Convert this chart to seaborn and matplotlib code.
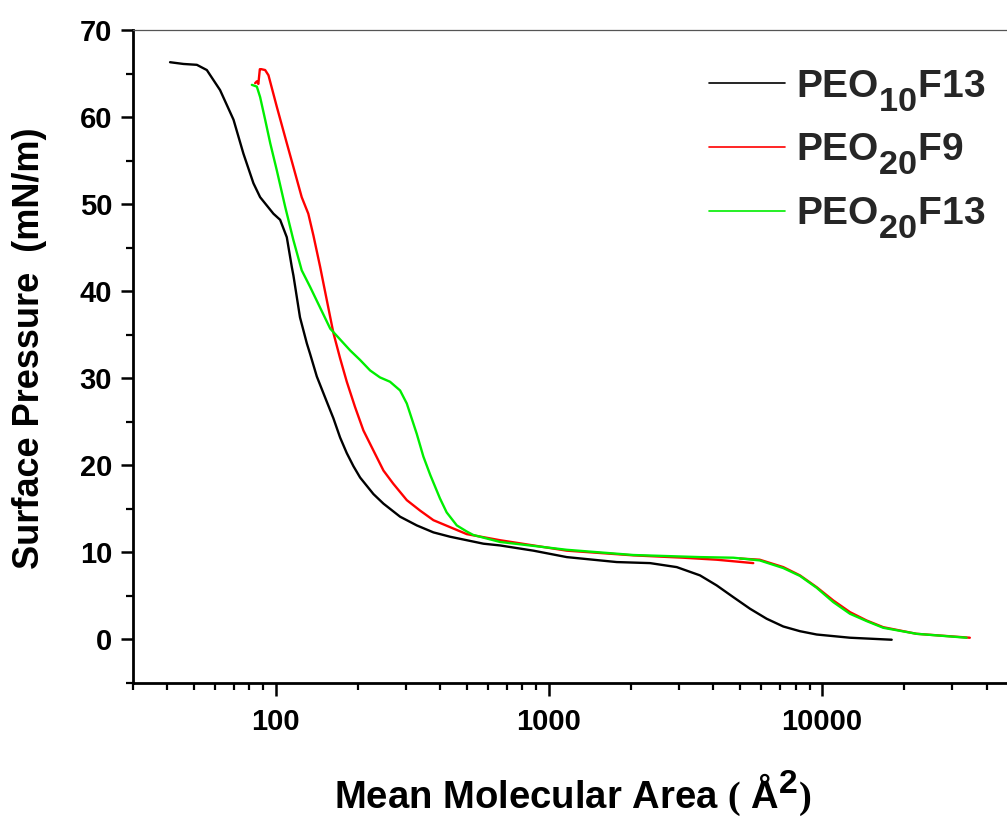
import numpy as np
import pandas as pd
import matplotlib
matplotlib.use('Agg')
import matplotlib.pyplot as plt
import seaborn as sns
from matplotlib.lines import Line2D
from matplotlib.ticker import FixedLocator, FixedFormatter, LogLocator, MultipleLocator, NullFormatter

# larger, lower subscripts (Origin style)
try:
    import matplotlib._mathtext as _mt
    _mt.SHRINK_FACTOR = 0.88
    for _name in dir(_mt):
        _obj = getattr(_mt, _name)
        if isinstance(_obj, type) and issubclass(_obj, _mt.FontConstantsBase):
            _obj.sub1 = 0.7
except Exception:
    pass

# ---------------- data ----------------
series_names = ['PEO$_{\\mathbf{10}}$F13', 'PEO$_{\\mathbf{20}}$F9', 'PEO$_{\\mathbf{20}}$F13']
series_colors = ['#000000', '#ff0000', '#00ee00']

peo10f13_area = [41.0, 45.9, 51.4, 55.9, 62.5, 70.0, 76.1, 82.8, 87.6, 98.0, 103.7, 109.7, 114.4,
                 116.0, 122.6, 129.9, 133.5, 141.3, 153.7, 162.5, 171.9, 181.9, 192.4, 203.5,
                 227.7, 247.8, 285.1, 328.2, 377.5, 434.5, 500, 575.6, 662, 877, 1162, 1771,
                 2345, 2937, 3573, 4112, 4732, 5446, 6267, 7211, 8298, 9551, 12650, 17980]
peo10f13_pi = [66.3, 66.1, 66.0, 65.4, 63.1, 59.7, 55.8, 52.4, 50.8, 48.9, 48.2, 46.2, 42.8,
               41.8, 37.0, 34.0, 32.8, 30.2, 27.3, 25.4, 23.2, 21.4, 19.9, 18.6,
               16.7, 15.6, 14.1, 13.1, 12.3, 11.8, 11.4, 11.0, 10.8, 10.2, 9.46, 8.89,
               8.77, 8.31, 7.36, 6.21, 4.86, 3.53, 2.38, 1.49, 0.95, 0.57, 0.20, -0.03]

peo20f9_area_a = [84.0, 85.2, 86.3, 87.4, 88.5, 91.4, 94.0, 100.8, 109.7, 115.9, 124.4, 131.5, 137.3,
                  145.3, 149.4, 162.5, 171.9, 181.9, 195.0, 209.3, 227.7, 247.8, 269.0, 301.7,
                  337.5, 377.6, 434.5, 500, 662, 1162, 2037, 3104, 4112, 5598]
peo20f9_pi_a = [63.9, 64.1, 63.8, 65.5, 65.5, 65.4, 64.8, 61.2, 57.0, 54.3, 50.8, 48.9, 46.4,
                42.8, 40.9, 35.2, 32.3, 29.6, 26.7, 24.0, 21.7, 19.4, 17.9, 16.0,
                14.8, 13.7, 12.9, 12.1, 11.4, 10.2, 9.66, 9.39, 9.16, 8.77]
peo20f9_area_b = [5000, 5911, 7211, 8298, 9551, 10990, 12650, 14560, 16750, 22180, 34740]
peo20f9_pi_b = [9.3, 9.16, 8.31, 7.36, 6.01, 4.48, 3.14, 2.18, 1.41, 0.65, 0.20]

peo20f13_area = [81.7, 85.2, 87.6, 91.4, 95.4, 100.8, 108.2, 115.9, 124.4, 133.5, 158.2, 187.1,
                 203.5, 221.4, 240.6, 261.9, 285.1, 301.7, 328.2, 347.0, 367.6, 399.0, 422.1,
                 459.8, 500, 528.5, 662, 1162, 2037, 3573, 4732, 5911, 7211, 8298, 9551, 10990,
                 12650, 14560, 16750, 22180, 33800]
peo20f13_pi = [63.7, 63.5, 62.3, 59.7, 57.0, 53.9, 49.7, 45.9, 42.4, 40.5, 35.7, 33.2,
               32.1, 30.9, 30.1, 29.6, 28.6, 27.1, 23.6, 21.0, 18.9, 16.2, 14.6,
               13.1, 12.4, 12.0, 11.2, 10.3, 9.7, 9.46, 9.39, 9.08, 8.2, 7.3, 5.94, 4.29,
               2.95, 2.11, 1.34, 0.65, 0.20]

x_ticks = [100, 1000, 10000]
x_tick_labels = ['100', '1000', '10000']
y_ticks = [0, 10, 20, 30, 40, 50, 60, 70]
y_tick_labels = ['0', '10', '20', '30', '40', '50', '60', '70']
x_label = r'Mean Molecular Area $\mathrm{(}$ Å$^{\mathbf{2}}\mathrm{)}$'
y_label = 'Surface Pressure  (mN/m)'

# ---------------- long-form table ----------------
frames = [
    pd.DataFrame({'area': peo10f13_area, 'pi': peo10f13_pi, 'series': series_names[0], 'seg': 'k1'}),
    pd.DataFrame({'area': peo20f9_area_a, 'pi': peo20f9_pi_a, 'series': series_names[1], 'seg': 'r1'}),
    pd.DataFrame({'area': peo20f9_area_b, 'pi': peo20f9_pi_b, 'series': series_names[1], 'seg': 'r2'}),
    pd.DataFrame({'area': peo20f13_area, 'pi': peo20f13_pi, 'series': series_names[2], 'seg': 'g1'}),
]
df = pd.concat(frames, ignore_index=True)

sns.set_theme(style='ticks')
plt.rcParams['font.family'] = ['Liberation Sans', 'DejaVu Sans']
plt.rcParams['font.weight'] = 'bold'
plt.rcParams['mathtext.fontset'] = 'custom'
plt.rcParams['mathtext.rm'] = 'Liberation Serif'
plt.rcParams['mathtext.bf'] = 'Liberation Sans:bold'
plt.rcParams['mathtext.it'] = 'Liberation Sans:bold'
plt.rcParams['mathtext.default'] = 'bf'

fig = plt.figure(figsize=(10.07, 8.17), dpi=100)
ax = fig.add_axes([133 / 1007, 134 / 817, 880 / 1007, 653 / 817])

palette = dict(zip(series_names, series_colors))
sns.lineplot(data=df, x='area', y='pi', hue='series', units='seg', estimator=None,
             sort=False, palette=palette, hue_order=series_names, linewidth=1.7,
             legend=False, ax=ax)

ax.set_xscale('log')
ax.set_xlim(30, 50000)
ax.set_ylim(-5, 70)

ax.xaxis.set_major_locator(FixedLocator(x_ticks))
ax.xaxis.set_major_formatter(FixedFormatter(x_tick_labels))
ax.xaxis.set_minor_locator(LogLocator(base=10, subs=np.arange(2, 10), numticks=50))
ax.xaxis.set_minor_formatter(NullFormatter())
ax.yaxis.set_major_locator(FixedLocator(y_ticks))
ax.yaxis.set_major_formatter(FixedFormatter(y_tick_labels))
ax.yaxis.set_minor_locator(MultipleLocator(5))

ax.tick_params(axis='both', which='major', direction='out', length=9, width=1.8,
               labelsize=21, color='black', labelcolor='black')
ax.tick_params(axis='both', which='minor', direction='out', length=5, width=1.6, color='black')
ax.tick_params(axis='x', which='major', pad=9)
ax.tick_params(axis='y', which='major', pad=6)
for lab in ax.get_xticklabels() + ax.get_yticklabels():
    lab.set_fontweight('bold')

for s in ['left', 'bottom']:
    ax.spines[s].set_linewidth(2.0)
    ax.spines[s].set_color('black')
ax.spines['top'].set_linewidth(0.9)
ax.spines['top'].set_color('#555555')
ax.spines['right'].set_visible(False)
ax.grid(False)

ax.set_xlabel(x_label, fontsize=27.5, fontweight='bold', labelpad=23, color='black')
ax.set_ylabel(y_label, fontsize=26, fontweight='bold', color='black')
ax.yaxis.set_label_coords((47 - 133) / 880, (683 - 348.5) / 653)

handles = [Line2D([], [], color=c, lw=1.2) for c in series_colors]
ax.legend(handles, series_names, loc='upper left',
          bbox_to_anchor=(709 / 1007, 1 - 68 / 817), bbox_transform=fig.transFigure,
          frameon=False, borderpad=0, borderaxespad=0, handlelength=1.95,
          handletextpad=0.3, labelspacing=0.46,
          prop={'family': 'Liberation Sans', 'weight': 'bold', 'size': 28})

fig.savefig('out.png', dpi=100)
